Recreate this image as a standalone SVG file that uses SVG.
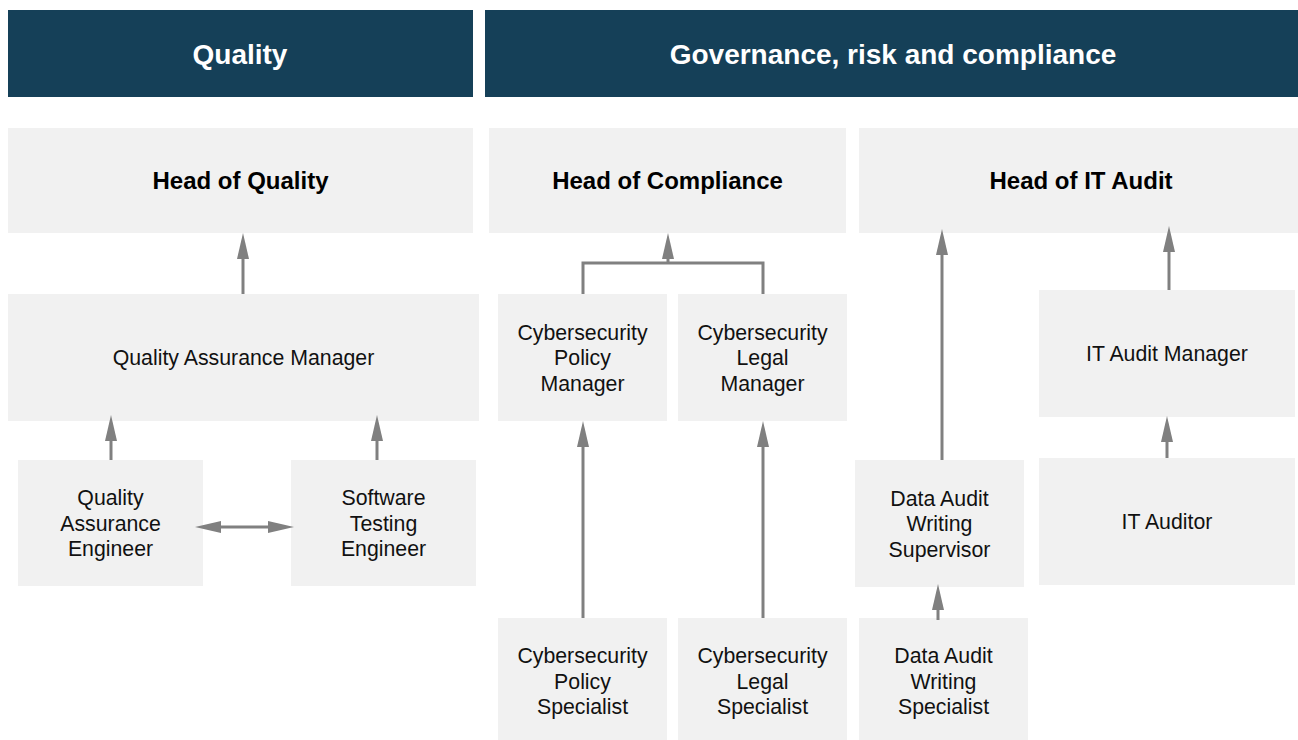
<svg xmlns="http://www.w3.org/2000/svg" width="1298" height="740" viewBox="0 0 1298 740">
<style>
.hdr{fill:#154058}
.hdrt{font-family:"Liberation Sans",Arial,sans-serif;font-weight:bold;font-size:28px;fill:#ffffff;text-anchor:middle}
.box{fill:#f1f1f1}
.head{font-family:"Liberation Sans",Arial,sans-serif;font-weight:bold;font-size:24px;fill:#000000;text-anchor:middle}
.lbl{font-family:"Liberation Sans",Arial,sans-serif;font-size:21.3px;fill:#111111;text-anchor:middle}
.con{stroke:#808080;stroke-width:3;fill:none}
</style>
<defs>
<marker id="ah" markerUnits="userSpaceOnUse" markerWidth="28" markerHeight="14" refX="0" refY="6" orient="auto-start-reverse" viewBox="0 0 28 12">
<path d="M0,0 L26,6 L0,12 Z" fill="#808080"/>
</marker>
</defs>
<g id="header-quality"><rect class="hdr" x="8" y="10" width="465" height="87"/><text class="hdrt" x="240" y="63.5">Quality</text></g>
<g id="header-grc"><rect class="hdr" x="485" y="10" width="813" height="87"/><text class="hdrt" x="893" y="63.5">Governance, risk and compliance</text></g>

<g id="head-quality"><rect class="box" x="8" y="128" width="465" height="105"/><text class="head" x="240.5" y="189">Head of Quality</text></g>
<g id="head-compliance"><rect class="box" x="489" y="128" width="357" height="105"/><text class="head" x="667.5" y="189">Head of Compliance</text></g>
<g id="head-itaudit"><rect class="box" x="859" y="128" width="439" height="105"/><text class="head" x="1081" y="189">Head of IT Audit</text></g>

<g id="qa-manager"><rect class="box" x="8" y="294" width="471" height="127"/><text class="lbl" x="243.5" y="365">Quality Assurance Manager</text></g>
<g id="qa-engineer"><rect class="box" x="18" y="460" width="185" height="126"/><text class="lbl" x="110.5" y="505"><tspan x="110.5">Quality</tspan><tspan x="110.5" dy="25.5">Assurance</tspan><tspan x="110.5" dy="25.5">Engineer</tspan></text></g>
<g id="sw-testing-engineer"><rect class="box" x="291" y="460" width="185" height="126"/><text class="lbl" x="383.5" y="505"><tspan x="383.5">Software</tspan><tspan x="383.5" dy="25.5">Testing</tspan><tspan x="383.5" dy="25.5">Engineer</tspan></text></g>

<g id="cyber-policy-manager"><rect class="box" x="498" y="294" width="169" height="127"/><text class="lbl" x="582.5" y="339.5"><tspan x="582.5">Cybersecurity</tspan><tspan x="582.5" dy="25.5">Policy</tspan><tspan x="582.5" dy="25.5">Manager</tspan></text></g>
<g id="cyber-legal-manager"><rect class="box" x="678" y="294" width="169" height="127"/><text class="lbl" x="762.5" y="339.5"><tspan x="762.5">Cybersecurity</tspan><tspan x="762.5" dy="25.5">Legal</tspan><tspan x="762.5" dy="25.5">Manager</tspan></text></g>
<g id="cyber-policy-specialist"><rect class="box" x="498" y="618" width="169" height="122"/><text class="lbl" x="582.5" y="663"><tspan x="582.5">Cybersecurity</tspan><tspan x="582.5" dy="25.5">Policy</tspan><tspan x="582.5" dy="25.5">Specialist</tspan></text></g>
<g id="cyber-legal-specialist"><rect class="box" x="678" y="618" width="169" height="122"/><text class="lbl" x="762.5" y="663"><tspan x="762.5">Cybersecurity</tspan><tspan x="762.5" dy="25.5">Legal</tspan><tspan x="762.5" dy="25.5">Specialist</tspan></text></g>

<g id="data-audit-supervisor"><rect class="box" x="855" y="460" width="169" height="127"/><text class="lbl" x="939.5" y="505.5"><tspan x="939.5">Data Audit</tspan><tspan x="939.5" dy="25.5">Writing</tspan><tspan x="939.5" dy="25.5">Supervisor</tspan></text></g>
<g id="data-audit-specialist"><rect class="box" x="859" y="618" width="169" height="122"/><text class="lbl" x="943.5" y="663"><tspan x="943.5">Data Audit</tspan><tspan x="943.5" dy="25.5">Writing</tspan><tspan x="943.5" dy="25.5">Specialist</tspan></text></g>
<g id="it-audit-manager"><rect class="box" x="1039" y="290" width="256" height="127"/><text class="lbl" x="1167" y="361">IT Audit Manager</text></g>
<g id="it-auditor"><rect class="box" x="1039" y="458" width="256" height="127"/><text class="lbl" x="1167" y="529">IT Auditor</text></g>

<g id="connectors">
<line class="con" x1="243" y1="294" x2="243" y2="259" marker-end="url(#ah)"/>
<line class="con" x1="111" y1="460" x2="111" y2="441" marker-end="url(#ah)"/>
<line class="con" x1="377" y1="460" x2="377" y2="441" marker-end="url(#ah)"/>
<line class="con" x1="221" y1="527" x2="268" y2="527" marker-start="url(#ah)" marker-end="url(#ah)"/>
<path class="con" d="M583,294 V263 H763 V294"/>
<line class="con" x1="668" y1="263" x2="668" y2="259" marker-end="url(#ah)"/>
<line class="con" x1="583" y1="618" x2="583" y2="447" marker-end="url(#ah)"/>
<line class="con" x1="763" y1="618" x2="763" y2="447" marker-end="url(#ah)"/>
<line class="con" x1="942" y1="460" x2="942" y2="255" marker-end="url(#ah)"/>
<line class="con" x1="938" y1="620" x2="938" y2="610" marker-end="url(#ah)"/>
<line class="con" x1="1169" y1="290" x2="1169" y2="252" marker-end="url(#ah)"/>
<line class="con" x1="1167" y1="458" x2="1167" y2="442" marker-end="url(#ah)"/>
</g>
</svg>
